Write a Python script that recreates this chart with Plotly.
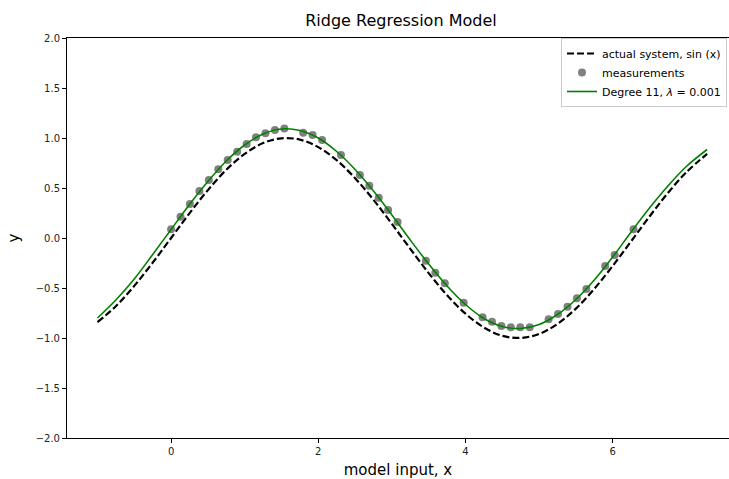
import plotly.graph_objects as go

# True system, sampled along the input range
x_curve = [-1.0, -0.75, -0.5, -0.25, 0.0, 0.25, 0.5, 0.75, 1.0, 1.25, 1.5, 1.75,
           2.0, 2.25, 2.5, 2.75, 3.0, 3.25, 3.5, 3.75, 4.0, 4.25, 4.5, 4.75,
           5.0, 5.25, 5.5, 5.75, 6.0, 6.25, 6.5, 6.75, 7.0, 7.283]
y_true = [-0.841, -0.682, -0.479, -0.247, 0.0, 0.247, 0.479, 0.682, 0.841, 0.949,
          0.997, 0.984, 0.909, 0.778, 0.598, 0.382, 0.141, -0.108, -0.351, -0.572,
          -0.757, -0.895, -0.978, -0.999, -0.959, -0.859, -0.706, -0.508, -0.279,
          -0.033, 0.215, 0.450, 0.657, 0.841]

# Ridge model prediction (degree 11, lambda = 0.001)
y_fit = [-0.80, -0.62, -0.41, -0.165, 0.085, 0.335, 0.565, 0.77, 0.93, 1.04,
         1.09, 1.075, 1.00, 0.865, 0.685, 0.47, 0.23, -0.02, -0.26, -0.48,
         -0.665, -0.805, -0.885, -0.905, -0.865, -0.765, -0.615, -0.42, -0.19,
         0.06, 0.30, 0.52, 0.715, 0.885]

# Measurements
x_meas = [0.000, 0.128, 0.256, 0.385, 0.513, 0.641, 0.769, 0.898, 1.026, 1.154,
          1.282, 1.411, 1.539, 1.795, 1.923, 2.052, 2.308, 2.565, 2.693, 2.821,
          2.949, 3.077, 3.462, 3.590, 3.719, 3.975, 4.232, 4.360, 4.488, 4.616,
          4.744, 4.873, 5.129, 5.257, 5.386, 5.514, 5.642, 5.898, 6.027, 6.283]
y_meas = [0.087, 0.213, 0.34, 0.47, 0.58, 0.687, 0.78, 0.863, 0.94, 1.007,
          1.047, 1.08, 1.095, 1.053, 1.03, 0.98, 0.83, 0.63, 0.523, 0.403,
          0.28, 0.16, -0.227, -0.347, -0.453, -0.647, -0.793, -0.837, -0.88, -0.893,
          -0.893, -0.893, -0.813, -0.76, -0.687, -0.603, -0.51, -0.28, -0.17, 0.087]

x_ticks = [0, 2, 4, 6]
y_ticks = [-2.0, -1.5, -1.0, -0.5, 0.0, 0.5, 1.0, 1.5, 2.0]

FONT = "DejaVu Sans"

fig = go.Figure()
fig.add_trace(go.Scatter(
    x=x_curve, y=y_true, mode="lines", name="actual system, sin (x)",
    line=dict(color="black", width=2.2, dash="7px,3px", shape="spline"),
))
fig.add_trace(go.Scatter(
    x=x_meas, y=y_meas, mode="markers", name="measurements",
    marker=dict(color="#808080", size=8, line=dict(width=0)),
))
fig.add_trace(go.Scatter(
    x=x_curve, y=y_fit, mode="lines", name="Degree 11, <i>λ</i> = 0.001",
    line=dict(color="#008000", width=1.6, shape="spline"),
))

fig.update_layout(
    width=729, height=479,
    margin=dict(l=67, r=0, t=38, b=41),
    paper_bgcolor="white", plot_bgcolor="white",
    font=dict(family=FONT, color="#222222", size=10),
    title=dict(text="Ridge Regression Model", x=0.55, xanchor="center",
               y=0.957, yanchor="middle", font=dict(size=16, color="black")),
    showlegend=True,
    legend=dict(x=0.997, xanchor="right", y=1.0, yanchor="top",
                bgcolor="white", bordercolor="#cccccc", borderwidth=1,
                font=dict(size=11, color="black"), tracegroupgap=0),
    xaxis=dict(range=[-1.414, 7.58], tickvals=x_ticks, ticks="outside",
               ticklen=4, tickcolor="black", showgrid=False, zeroline=False,
               showline=True, linecolor="black", linewidth=1, mirror=True,
               title=dict(text="model input, x", font=dict(size=15, color="black"),
                          standoff=8)),
    yaxis=dict(range=[-2.0, 2.0], tickvals=y_ticks, tickformat=".1f",
               ticks="outside", ticklen=4, tickcolor="black", showgrid=False,
               zeroline=False, showline=True, linecolor="black", linewidth=1,
               title=dict(text="y", font=dict(size=15, color="black"), standoff=12)),
)

fig.write_html("out.html")
